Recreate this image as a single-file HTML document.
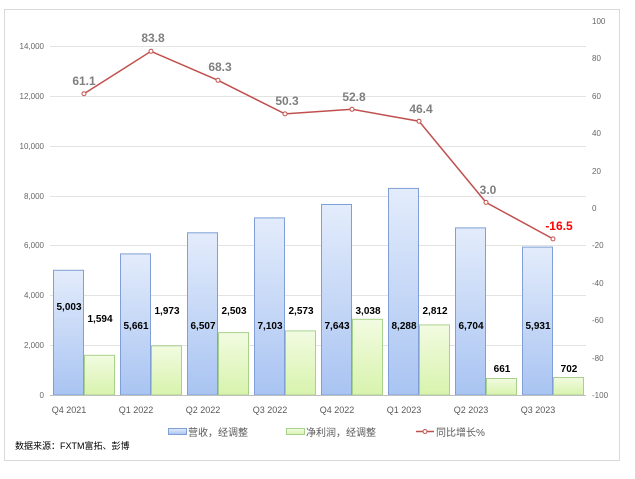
<!DOCTYPE html>
<html><head><meta charset="utf-8"><style>
body{margin:0;background:#fff}
svg text{font-family:"Liberation Sans","Noto Sans CJK SC",sans-serif}
</style></head><body>
<svg width="635" height="474" viewBox="0 0 635 474" xmlns="http://www.w3.org/2000/svg">
<defs>
<linearGradient id="gb" x1="0" y1="0" x2="0" y2="1"><stop offset="0" stop-color="#e3ecfb"/><stop offset="1" stop-color="#a9c4f2"/></linearGradient>
<linearGradient id="gg" x1="0" y1="0" x2="0" y2="1"><stop offset="0" stop-color="#f2fbe1"/><stop offset="1" stop-color="#d8f3ad"/></linearGradient>
</defs>
<rect x="4.5" y="9.5" width="615" height="451" fill="#fff" stroke="#d9d9d9"/>
<g stroke="#e3e3e3" stroke-width="1">
<line x1="50" x2="586" y1="46.5" y2="46.5"/><line x1="50" x2="586" y1="96.5" y2="96.5"/>
<line x1="50" x2="586" y1="146.5" y2="146.5"/><line x1="50" x2="586" y1="196.5" y2="196.5"/>
<line x1="50" x2="586" y1="245.5" y2="245.5"/><line x1="50" x2="586" y1="295.5" y2="295.5"/>
<line x1="50" x2="586" y1="345.5" y2="345.5"/>
</g>
<g font-size="8" fill="#666" text-anchor="end">
<text x="44" y="49">14,000</text><text x="44" y="99">12,000</text><text x="44" y="149">10,000</text>
<text x="44" y="199">8,000</text><text x="44" y="248">6,000</text><text x="44" y="298">4,000</text>
<text x="44" y="348">2,000</text><text x="44" y="398">0</text>
</g>
<g font-size="8" fill="#666" text-anchor="start">
<text x="592" y="24">100</text><text x="592" y="61">80</text><text x="592" y="99">60</text>
<text x="592" y="136">40</text><text x="592" y="174">20</text><text x="592" y="211">0</text>
<text x="592" y="248">-20</text><text x="592" y="286">-40</text><text x="592" y="323">-60</text>
<text x="592" y="361">-80</text><text x="592" y="398">-100</text>
</g>
<g stroke="#7f9fd6" stroke-width="1" fill="url(#gb)">
<rect x="53.5" y="270.3" width="30" height="124.7"/>
<rect x="120.5" y="253.9" width="30" height="141.1"/>
<rect x="187.5" y="232.8" width="30" height="162.2"/>
<rect x="254.5" y="217.9" width="30" height="177.1"/>
<rect x="321.5" y="204.5" width="30" height="190.5"/>
<rect x="388.5" y="188.4" width="30" height="206.6"/>
<rect x="455.5" y="227.9" width="30" height="167.1"/>
<rect x="522.5" y="247.1" width="30" height="147.9"/>
</g>
<g stroke="#a9d18e" stroke-width="1" fill="url(#gg)">
<rect x="84.5" y="355.3" width="30" height="39.7"/>
<rect x="151.5" y="345.8" width="30" height="49.2"/>
<rect x="218.5" y="332.6" width="30" height="62.4"/>
<rect x="285.5" y="330.9" width="30" height="64.1"/>
<rect x="352.5" y="319.3" width="30" height="75.7"/>
<rect x="419.5" y="324.9" width="30" height="70.1"/>
<rect x="486.5" y="378.5" width="30" height="16.5"/>
<rect x="553.5" y="377.5" width="30" height="17.5"/>
</g>
<line x1="50" x2="586" y1="395.5" y2="395.5" stroke="#bfbfbf"/>
<g font-size="10" font-weight="bold" fill="#000" text-anchor="middle">
<text x="69" y="310">5,003</text><text x="136" y="329">5,661</text><text x="203" y="329">6,507</text>
<text x="270" y="329">7,103</text><text x="337" y="329">7,643</text><text x="404" y="329">8,288</text>
<text x="471" y="329">6,704</text><text x="538" y="329">5,931</text>
<text x="100" y="322">1,594</text><text x="167" y="314">1,973</text><text x="234" y="314">2,503</text>
<text x="301" y="314">2,573</text><text x="368" y="314">3,038</text><text x="435" y="314">2,812</text>
<text x="502" y="372">661</text><text x="569" y="372">702</text>
</g>
<polyline fill="none" stroke="#c0504d" stroke-width="1.5" points="84,93.7 151,51.3 218,80.3 285,113.9 352,109.3 419,121.2 486,202.4 553,238.9"/>
<g fill="#fff" stroke="#c0504d" stroke-width="1">
<circle cx="84" cy="93.7" r="2"/><circle cx="151" cy="51.3" r="2"/><circle cx="218" cy="80.3" r="2"/>
<circle cx="285" cy="113.9" r="2"/><circle cx="352" cy="109.3" r="2"/><circle cx="419" cy="121.2" r="2"/>
<circle cx="486" cy="202.4" r="2"/><circle cx="553" cy="238.9" r="2"/>
</g>
<g font-size="12" font-weight="bold" fill="#7f7f7f" text-anchor="middle">
<text x="84" y="85">61.1</text><text x="153" y="42">83.8</text><text x="220" y="71">68.3</text>
<text x="287" y="105">50.3</text><text x="354" y="101">52.8</text><text x="421" y="113">46.4</text>
<text x="488" y="194">3.0</text><text x="559" y="230" fill="#ff0000">-16.5</text>
</g>
<g font-size="9" fill="#595959" text-anchor="middle">
<text x="69" y="413">Q4 2021</text><text x="136" y="413">Q1 2022</text><text x="203" y="413">Q2 2022</text>
<text x="270" y="413">Q3 2022</text><text x="337" y="413">Q4 2022</text><text x="404" y="413">Q1 2023</text>
<text x="471" y="413">Q2 2023</text><text x="538" y="413">Q3 2023</text>
</g>
<rect x="168.5" y="428.5" width="18" height="6" fill="url(#gb)" stroke="#7f9fd6"/>
<text x="188" y="436" font-size="10" fill="#595959">营收，经调整</text>
<rect x="286.5" y="428.5" width="18" height="6" fill="url(#gg)" stroke="#a9d18e"/>
<text x="306" y="436" font-size="10" fill="#595959">净利润，经调整</text>
<line x1="416" x2="434" y1="431.5" y2="431.5" stroke="#c0504d" stroke-width="1.5"/>
<circle cx="425" cy="431.5" r="2" fill="#fff" stroke="#c0504d"/>
<text x="436" y="436" font-size="10" fill="#595959">同比增长%</text>
<text x="15" y="449" font-size="9" fill="#000">数据来源：FXTM富拓、彭博</text>
</svg>
</body></html>
